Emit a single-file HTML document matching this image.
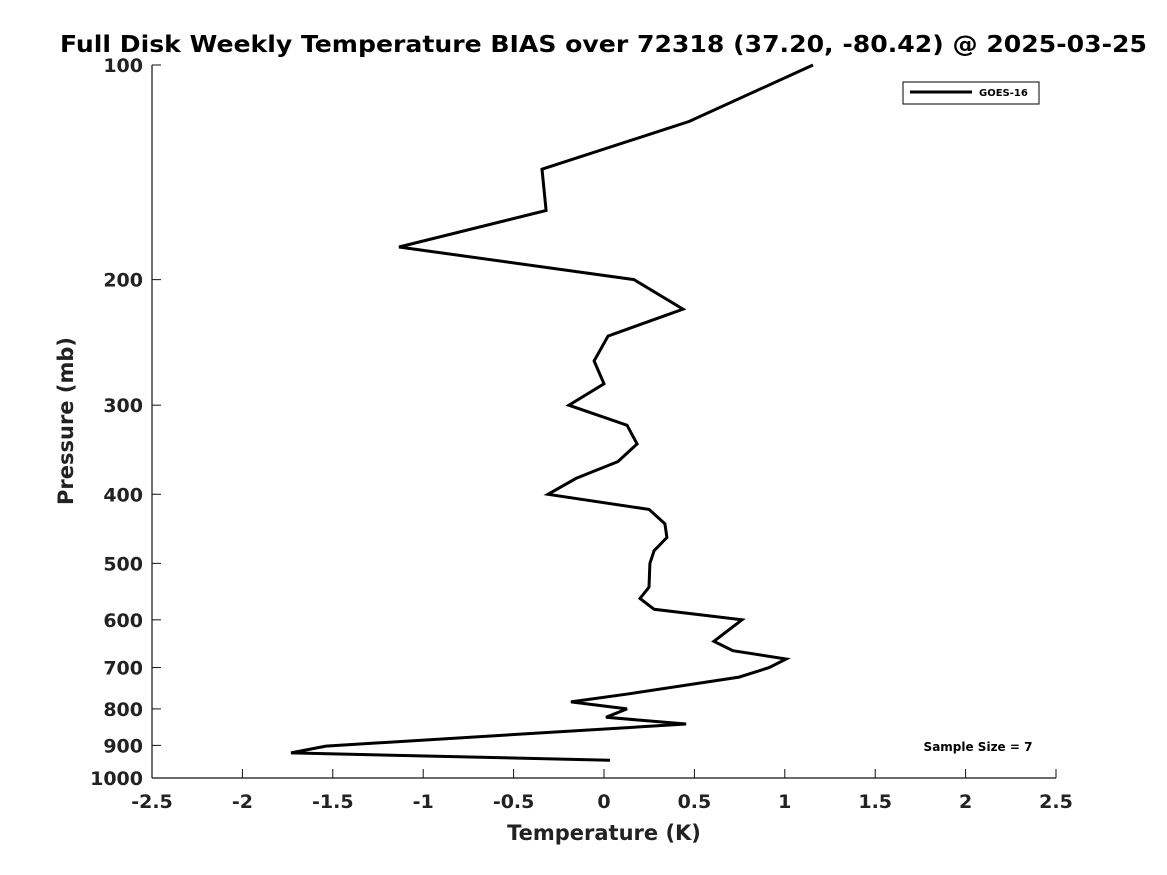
<!DOCTYPE html>
<html><head><meta charset="utf-8"><style>
html,body{margin:0;padding:0;background:#fff;}
svg{display:block;font-family:"DejaVu Sans","Liberation Sans",sans-serif;font-weight:bold;}
</style></head><body>
<svg id="chart" width="1167" height="875" viewBox="0 0 1167 875">
<rect width="1167" height="875" fill="#fff"/>
<text x="60" y="52" textLength="1087" lengthAdjust="spacingAndGlyphs" font-size="23" fill="#000">Full Disk Weekly Temperature BIAS over 72318 (37.20, -80.42) @ 2025-03-25</text>
<g id="axes"></g>
<g id="series"></g>
<g>
<rect x="903" y="82" width="136" height="22" fill="#fff" stroke="#000" stroke-width="1"/>
<line x1="910" y1="92" x2="972" y2="92" stroke="#000" stroke-width="3"/>
<text x="979" y="96" font-size="10" fill="#000">GOES-16</text>
</g>
<text x="978" y="751" text-anchor="middle" font-size="12" fill="#000">Sample Size = 7</text>
<text x="604" y="840" text-anchor="middle" font-size="21" fill="#222">Temperature (K)</text>
<text transform="translate(73,421) rotate(-90)" text-anchor="middle" font-size="21" fill="#222">Pressure (mb)</text>
</svg>
<script>
const xTicks = [-2.5,-2,-1.5,-1,-0.5,0,0.5,1,1.5,2,2.5];
const xTickLabels = ["-2.5","-2","-1.5","-1","-0.5","0","0.5","1","1.5","2","2.5"];
const yTicks = [100,200,300,400,500,600,700,800,900,1000];
const yTickLabels = ["100","200","300","400","500","600","700","800","900","1000"];
const pressures = [100,120,140,160,180,200,220,240,260,280,300,320,340,360,380,400,420,440,460,480,500,540,560,580,600,643,663,681,700,722,762,782,800,822,840,902,922,944];
const biasGOES16 = [1.156,0.47,-0.343,-0.32,-1.134,0.166,0.437,0.022,-0.055,0,-0.194,0.127,0.183,0.077,-0.155,-0.31,0.249,0.337,0.348,0.277,0.254,0.249,0.199,0.277,0.763,0.608,0.713,1.007,0.913,0.747,0.138,-0.183,0.127,0.011,0.454,-1.538,-1.731,0.033];

const NS="http://www.w3.org/2000/svg";
const X0=152,X1=1056,Y0=65,Y1=778;
const xScale=v=>X0+(v-(-2.5))/5*(X1-X0);
const yScale=p=>Y0+(Math.log10(p)-2)*(Y1-Y0);
const axes=document.getElementById('axes');
function mk(tag,attrs,parent){const e=document.createElementNS(NS,tag);for(const k in attrs)e.setAttribute(k,attrs[k]);parent.appendChild(e);return e;}
const xl=mk('line',{x1:X0,y1:Y1,x2:X1,y2:Y1,stroke:'#111','stroke-width':1.2},axes);


const yl=mk('line',{x1:X0,y1:Y0,x2:X0,y2:Y1,stroke:'#111','stroke-width':1.2},axes);


xTicks.forEach((v,i)=>{
  const x=xScale(v);
  const t=mk('line',{x1:x,y1:Y1,x2:x,y2:Y1-9,stroke:'#111','stroke-width':1},axes);
  
  
  const l=mk('text',{x:x,y:Y1+30,'text-anchor':'middle','font-size':19,fill:'#222'},axes);
  l.textContent=xTickLabels[i];
  
  
});
yTicks.forEach((p,i)=>{
  const y=yScale(p);
  const t=mk('line',{x1:X0,y1:y,x2:X0+9,y2:y,stroke:'#111','stroke-width':1},axes);
  
  
  const l=mk('text',{x:X0-9,y:y+7,'text-anchor':'end','font-size':19,fill:'#222'},axes);
  l.textContent=yTickLabels[i];
  
  
});
const pts=pressures.map((p,i)=>xScale(biasGOES16[i]).toFixed(1)+','+yScale(p).toFixed(1)).join(' ');
const line=mk('polyline',{points:pts,fill:'none',stroke:'#000','stroke-width':3,'stroke-linejoin':'miter'},document.getElementById('series'));


</script>
</body></html>
